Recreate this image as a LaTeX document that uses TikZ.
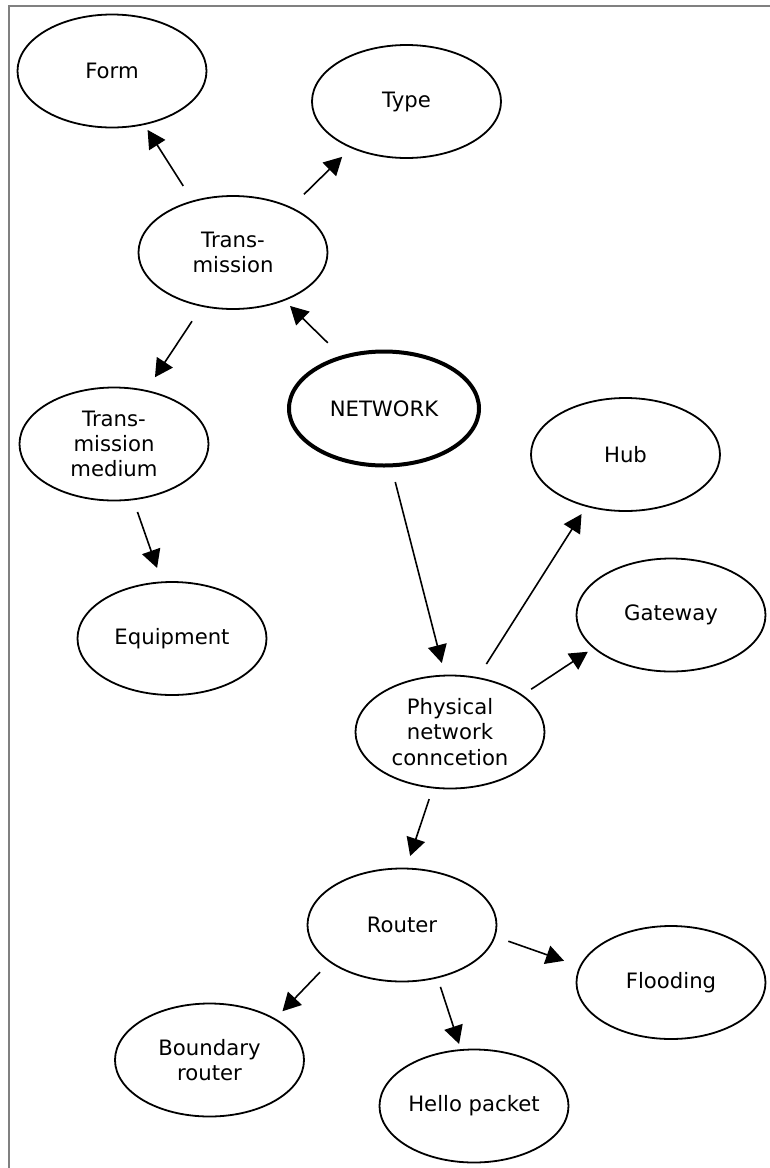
\documentclass[tikz,border=0pt]{standalone}
\usepackage{fontspec}
\setmainfont{DejaVu Sans}
\usetikzlibrary{arrows.meta,shapes.geometric}
\begin{document}
\begin{tikzpicture}[x=1pt,y=-1pt,
  concept/.style={ellipse, draw=black, line width=1.8pt,
    minimum width=189pt, minimum height=113pt,
    inner sep=0pt, outer sep=0pt, align=center,
    font=\fontsize{21.2}{25.3}\selectfont},
  core/.style={concept, line width=4pt, minimum width=190pt, minimum height=114pt},
  link/.style={-{Triangle[length=18pt,width=19pt]}, line width=1.6pt},
  frame/.style={draw=gray, line width=2pt},
]
\useasboundingbox (0,0) rectangle (769,1168);
\draw[frame] (8.5,1170) -- (8.5,6) -- (771,6);

% concepts
\node[concept] (form)   at (112,71)     {Form};
\node[concept] (type)   at (406.5,101.5) {Type};
\node[concept] (trans)  at (233,252.5)  {Trans-\\mission};
\node[core]    (net)    at (384,408.5)  {NETWORK};
\node[concept] (medium) at (114,444)    {Trans-\\mission\\medium};
\node[concept] (equip)  at (172,638.5)  {Equipment};
\node[concept] (hub)    at (625.5,454.5) {Hub};
\node[concept] (gate)   at (671,615)    {Gateway};
\node[concept] (phys)   at (450,732)    {Physical\\network\\conncetion};
\node[concept] (router) at (402,925)    {Router};
\node[concept] (flood)  at (671,982.5)  {Flooding};
\node[concept] (hello)  at (474,1106)   {Hello packet};
\node[concept] (bound)  at (209.5,1060) {Boundary\\router};

% links
\draw[link, shorten <=18.2pt, shorten >=6.8pt]  (trans.128.1)  -- (form.-59.6);
\draw[link, shorten <=18.9pt, shorten >=13.3pt] (trans.38.7)   -- (type.-140.5);
\draw[link, shorten <=20.5pt, shorten >=8.4pt]  (net.129.8)    -- (trans.-43);
\draw[link, shorten <=18.4pt, shorten >=16.3pt] (trans.-120.9) -- (medium.59.9);
\draw[link, shorten <=13.4pt, shorten >=15.2pt] (medium.-71.5) -- (equip.100);
\draw[link, shorten <=17.2pt, shorten >=13pt]   (net.-83.2)    -- (phys.95.9);
\draw[link, shorten <=16.5pt, shorten >=9.6pt]  (phys.63.3)    -- (hub.-127.5);
\draw[link, shorten <=11.1pt, shorten >=7.3pt]  (phys.27.1)    -- (gate.-157.8);
\draw[link, shorten <=12.1pt, shorten >=13.2pt] (phys.-107.2)  -- (router.86.1);
\draw[link, shorten <=14.6pt, shorten >=17.3pt] (router.-7.6)  -- (flood.170);
\draw[link, shorten <=10pt,   shorten >=6.4pt]  (router.-56.4) -- (hello.103.1);
\draw[link, shorten <=14.5pt, shorten >=11pt]   (router.-153)  -- (bound.32.4);
\end{tikzpicture}
\end{document}
